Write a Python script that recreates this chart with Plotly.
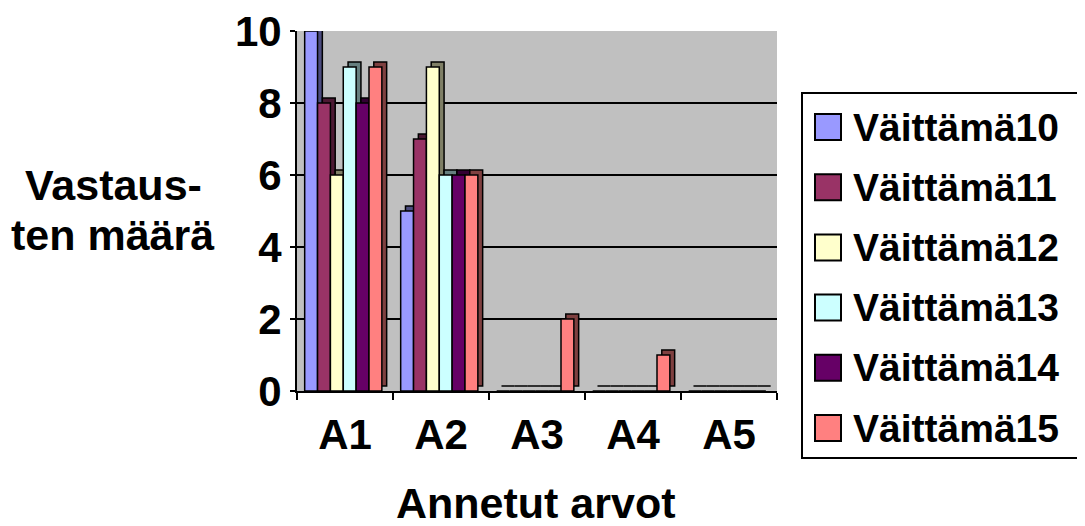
import plotly.graph_objects as go

# data
categories = ["A1", "A2", "A3", "A4", "A5"]
series_names = ["Väittämä10", "Väittämä11", "Väittämä12", "Väittämä13", "Väittämä14", "Väittämä15"]
v10 = [10, 5, 0, 0, 0]
v11 = [8, 7, 0, 0, 0]
v12 = [6, 9, 0, 0, 0]
v13 = [9, 6, 0, 0, 0]
v14 = [8, 6, 0, 0, 0]
v15 = [9, 6, 2, 1, 0]
series_values = [v10, v11, v12, v13, v14, v15]

# classic Excel palette
COLORS = ["#9999FF", "#993366", "#FFFFCC", "#CCFFFF", "#660066", "#FF8080"]
FONT = "Liberation Sans, Arial, sans-serif"

# the page body has an 8px margin, so all pixel positions below are page - 8
OFF = 8


def darker(hex_color, k=0.5):
    h = hex_color.lstrip("#")
    r, g, b = (int(h[i:i + 2], 16) for i in (0, 2, 4))
    return "rgb(%d,%d,%d)" % (r * k, g * k, b * k)


bar_w = 0.134
start = -0.42
depth_x = 0.05
depth_y = 0.14

fig = go.Figure()

# side/top faces for a pseudo-3D look (drawn first)
for i, (name, vals) in enumerate(zip(series_names, series_values)):
    fig.add_trace(go.Bar(
        x=categories, y=vals, base=depth_y,
        width=bar_w, offset=start + i * bar_w + depth_x,
        marker=dict(color=darker(COLORS[i]), line=dict(color="black", width=1.5)),
        showlegend=False, hoverinfo="skip", cliponaxis=False,
    ))

# front faces
for i, (name, vals) in enumerate(zip(series_names, series_values)):
    fig.add_trace(go.Bar(
        x=categories, y=vals, name=name,
        width=bar_w, offset=start + i * bar_w,
        marker=dict(color=COLORS[i], line=dict(color="black", width=1.5)),
        showlegend=False, cliponaxis=False,
    ))

# plot area in page pixels
px_l, px_w, px_t, px_h = 297 - OFF, 480, 31 - OFF, 360


def xp(px):
    return (px - OFF - px_l) / px_w


def yp(py):
    return (px_t + px_h - (py - OFF)) / px_h


# legend drawn by hand so the swatches are as large as in the original
shapes = [dict(type="rect", xref="paper", yref="paper",
               x0=xp(802), x1=xp(1082), y0=yp(458), y1=yp(93),
               line=dict(color="black", width=2), fillcolor="white", layer="below")]
annotations = []
for i, name in enumerate(series_names):
    cy = 127 + i * 60.2
    shapes.append(dict(type="rect", xref="paper", yref="paper",
                       x0=xp(815), x1=xp(841), y0=yp(cy + 13), y1=yp(cy - 13),
                       line=dict(color="black", width=2), fillcolor=COLORS[i]))
    annotations.append(dict(text=name, xref="paper", yref="paper",
                            x=xp(851), y=yp(cy), xanchor="left", yanchor="middle",
                            showarrow=False, font=dict(size=39, family=FONT, color="black", weight="bold")))

annotations += [
    dict(text="Vastaus-", xref="paper", yref="paper", x=xp(113), y=yp(185),
         xanchor="center", yanchor="middle", showarrow=False,
         font=dict(size=43, family=FONT, color="black", weight="bold")),
    dict(text="ten määrä", xref="paper", yref="paper", x=xp(113), y=yp(235),
         xanchor="center", yanchor="middle", showarrow=False,
         font=dict(size=43, family=FONT, color="black", weight="bold")),
    dict(text="Annetut arvot", xref="paper", yref="paper", x=xp(536), y=yp(503),
         xanchor="center", yanchor="middle", showarrow=False,
         font=dict(size=43, family=FONT, color="black", weight="bold")),
]

fig.update_layout(
    width=1085, height=526,
    paper_bgcolor="white",
    plot_bgcolor="#C0C0C0",
    barmode="overlay",
    showlegend=False,
    margin=dict(l=px_l, r=1085 - px_l - px_w, t=px_t, b=526 - px_t - px_h, autoexpand=False),
    font=dict(family=FONT, size=42, color="black", weight="bold"),
    shapes=shapes,
    annotations=annotations,
    xaxis=dict(
        type="category", range=[-0.5, 4.5],
        showline=True, linecolor="black", linewidth=2,
        ticks="outside", tickson="boundaries", ticklen=7, tickwidth=2, tickcolor="black",
        ticklabelstandoff=6, ticklabeloverflow="allow",
        showgrid=False, zeroline=False,
        tickfont=dict(size=42, family=FONT, weight="bold"),
    ),
    yaxis=dict(
        range=[0, 10], tickvals=[0, 2, 4, 6, 8, 10],
        showline=True, linecolor="black", linewidth=2,
        ticks="outside", ticklen=5, tickwidth=2, tickcolor="black",
        ticklabelstandoff=0, ticklabeloverflow="allow",
        showgrid=True, gridcolor="black", gridwidth=2,
        zeroline=False,
        tickfont=dict(size=42, family=FONT, weight="bold"),
    ),
)

fig.write_html("out.html")
